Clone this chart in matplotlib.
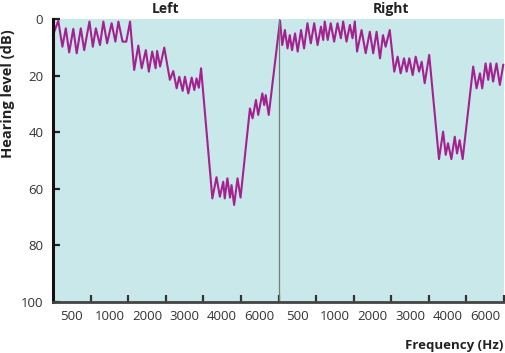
import matplotlib
matplotlib.use("Agg")
import matplotlib.pyplot as plt
import matplotlib.transforms as mtransforms
import numpy as np

plt.rcParams['font.family'] = ['Open Sans', 'DejaVu Sans']

# Frequency bands shown under each ear
band_labels = ['500', '1000', '2000', '3000', '4000', '6000']
ear_titles = ['Left', 'Right']

# Position along the frequency axis (one unit per band, left ear 0-6, right ear 6-12)
position = [0.00, 0.14, 0.25, 0.34, 0.43, 0.54, 0.63, 0.74, 0.83, 0.97,
            1.06, 1.14, 1.25, 1.34, 1.44, 1.56, 1.66, 1.74, 1.85, 1.95,
            2.05, 2.16, 2.27, 2.36, 2.47, 2.55, 2.64, 2.73, 2.77, 2.85,
            2.96, 3.11, 3.20, 3.29, 3.36, 3.45, 3.51, 3.60, 3.69, 3.76,
            3.82, 3.88, 3.94, 4.24, 4.35, 4.44, 4.53, 4.57, 4.64, 4.71,
            4.75, 4.82, 4.91, 4.99, 5.24, 5.31, 5.40, 5.46, 5.57, 5.62,
            5.66, 5.74, 6.04,
            6.10, 6.17, 6.24, 6.30, 6.36, 6.44, 6.51, 6.60, 6.68, 6.77,
            6.86, 6.95, 7.04, 7.13, 7.19, 7.23, 7.31, 7.39, 7.48, 7.57,
            7.66, 7.72, 7.81, 7.90, 7.97, 8.03, 8.09, 8.21, 8.32, 8.43,
            8.52, 8.61, 8.70, 8.78, 8.85, 8.96, 9.08, 9.17, 9.25, 9.34,
            9.41, 9.48, 9.57, 9.65, 9.74, 9.81, 9.89, 10.01, 10.27, 10.38,
            10.45, 10.51, 10.60, 10.69, 10.75, 10.82, 10.90, 11.18, 11.27, 11.36,
            11.42, 11.51, 11.58, 11.64, 11.71, 11.80, 11.89, 11.98]

# Hearing level (dB)
level = [5.7, 0.6, 9.8, 3.3, 11.8, 3.5, 12.1, 3.3, 11.0, 0.9,
         9.8, 3.3, 9.2, 0.9, 8.6, 1.5, 8.0, 0.9, 8.0, 8.0,
         0.9, 18.0, 9.4, 17.4, 11.0, 18.6, 11.5, 17.4, 11.3, 16.8,
         10.1, 21.5, 18.4, 24.5, 20.4, 25.4, 20.4, 26.3, 20.7, 25.1,
         21.0, 24.3, 17.4, 63.4, 55.9, 62.8, 57.5, 63.4, 56.3, 63.1,
         58.7, 65.7, 56.3, 63.1, 31.6, 35.1, 28.6, 33.9, 26.3, 30.4,
         26.9, 33.9, 0.6,
         9.2, 3.9, 10.4, 5.7, 11.0, 5.1, 11.5, 3.9, 10.4, 1.5,
         8.6, 1.5, 9.2, 2.7, 7.4, 0.9, 7.4, 1.5, 8.0, 1.5,
         6.8, 0.9, 8.0, 2.1, 6.8, 0.9, 11.5, 3.9, 12.1, 4.5,
         12.1, 4.5, 13.9, 5.7, 9.8, 3.9, 18.6, 13.3, 19.2, 13.9,
         18.6, 13.9, 19.8, 13.3, 18.6, 15.1, 22.7, 12.7, 49.5, 39.8,
         48.0, 43.9, 49.5, 41.6, 47.5, 42.8, 49.5, 16.8, 24.5, 19.2,
         24.5, 15.7, 21.5, 15.7, 22.1, 15.7, 23.3, 16.2]

fig = plt.figure(figsize=(5.05, 3.53), dpi=100)
ax = fig.add_axes([53 / 505, 1 - 302 / 353, 451 / 505, 283 / 353])
ax.set_facecolor('#c9e8ea')

ax.plot(position, level, color='#a3228f', linewidth=1.5, clip_on=False)
ax.axvline(6, color='#7a7a7a', linewidth=0.9)

ax.set_xlim(0, 12)
ax.set_ylim(100, 0)

ax.set_yticks(np.arange(0, 101, 20))
ax.set_xticks(np.arange(1, 13))
ax.set_xticklabels([])
ax.set_xticks(np.arange(0.5, 12, 1), minor=True)
ax.set_xticklabels(band_labels * 2, minor=True)

ax.tick_params(axis='y', direction='in', length=5, width=1.6, color='#222222',
               labelsize=9.5, labelcolor='#333333', pad=7)
ax.tick_params(axis='x', which='major', direction='in', length=5, width=1.6,
               color='#333333')
ax.tick_params(axis='x', which='minor', length=0, labelsize=9.5,
               labelcolor='#333333', pad=6)

for side in ['top', 'right']:
    ax.spines[side].set_visible(False)
ax.spines['left'].set_linewidth(2.2)
ax.spines['left'].set_color('#111111')
ax.spines['bottom'].set_linewidth(2)
ax.spines['bottom'].set_color('#444444')

# ear titles: x in data units, y in figure units
title_trans = mtransforms.blended_transform_factory(ax.transData, fig.transFigure)
for i, name in enumerate(ear_titles):
    ax.text(3 + 6 * i, 1 - 9 / 353, name, transform=title_trans,
            ha='center', va='center', fontsize=10, fontweight='bold',
            color='#222222')

fig.text(8 / 505, 1 - 94 / 353, 'Hearing level (dB)', rotation=90,
         ha='center', va='center', fontsize=10.5, fontweight='bold',
         color='#222222')
fig.text(503 / 505, 1 - 345 / 353, 'Frequency (Hz)', ha='right', va='center',
         fontsize=9.5, fontweight='bold', color='#222222')

fig.savefig('out.png', dpi=100)
